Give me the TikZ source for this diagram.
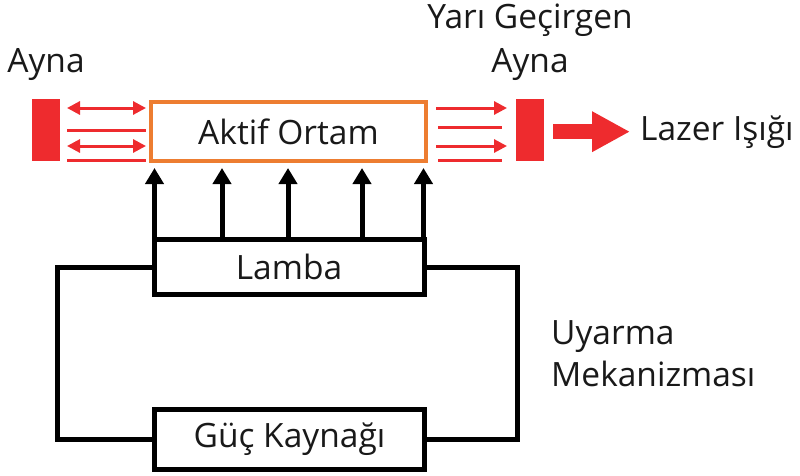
\documentclass[tikz,border=0pt]{standalone}
\usepackage{fontspec}
\setmainfont{Open Sans}
\usetikzlibrary{arrows.meta,calc}
\definecolor{laserred}{HTML}{EE2B2E}
\definecolor{mediumorange}{HTML}{ED7D31}
\tikzset{
  mirror/.style={fill=laserred, draw=none, minimum width=28pt, minimum height=62pt, inner sep=0pt, outer sep=0pt},
  medium/.style={draw=mediumorange, line width=4pt, minimum width=275pt, minimum height=59pt, inner sep=0pt, outer sep=0pt},
  unit/.style={draw=black, line width=5pt, minimum width=270pt, inner sep=0pt, outer sep=0pt},
  label/.style={font=\fontsize{33.5}{40}\selectfont, inner sep=0pt, text=black!90},
  ray/.style={draw=laserred, line width=3pt},
  raytip/.tip={Triangle[width=13pt,length=13pt]},
  pump/.style={line width=5pt, -{Triangle[width=18pt,length=16pt]}},
  wire/.style={line width=5pt}
}
\begin{document}
\begin{tikzpicture}[x=1pt,y=-1pt]
\useasboundingbox (0,0) rectangle (800,475);

% mirrors and gain medium
\node[mirror] (lm) at (46,130) {};
\node[mirror] (rm) at (530,130) {};
\node[medium, label] (am) at (288.5,131.5) {Aktif Ortam};

% pump lamp and power supply
\node[unit, minimum height=55pt, label] (lamba) at (289,267) {Lamba};
\node[unit, minimum height=60pt, label] (guc) at (289.5,439.5) {Güç Kaynağı};

% text labels
\node[label, anchor=base] (laynalbl) at (46,72) {Ayna};
\node[label, anchor=base] (yarilbl) at (530,28) {Yarı Geçirgen};
\node[label, anchor=base] (raynalbl) at (530,72) {Ayna};
\node[label, anchor=base west] (laser) at (640,140) {Lazer Işığı};
\node[label, anchor=base west] (uyarma) at (551,344) {Uyarma};
\node[label, anchor=base west] (mekanizma) at (551,386) {Mekanizması};

% light bouncing between the left mirror and the medium
\draw[ray, {raytip}-{raytip}]
  ($(lm.east)+(7,-22)$) -- ($(am.west |- lm.east)+(-5,-22)$);
\draw[ray] ($(lm.east)+(7,0)$) -- ($(am.west |- lm.east)+(-5,0)$);
\draw[ray, {raytip}-{raytip}]
  ($(lm.east)+(7,16)$) -- ($(am.west |- lm.east)+(-5,16)$);
\draw[ray] ($(lm.east)+(7,30)$) -- ($(am.west |- lm.east)+(-5,30)$);

% light between the medium and the output coupler
\draw[ray, -{raytip}]
  ($(am.east |- rm.west)+(10,-22)$) -- ($(rm.west)+(-9,-22)$);
\draw[ray] ($(am.east |- rm.west)+(12,-3)$) -- ($(rm.west)+(-14,-3)$);
\draw[ray, -{raytip}]
  ($(am.east |- rm.west)+(10,16)$) -- ($(rm.west)+(-9,16)$);
\draw[ray] ($(am.east |- rm.west)+(12,30)$) -- ($(rm.west)+(-14,30)$);

% output beam
\draw[draw=laserred, line width=15pt, -{Triangle[width=38pt,length=38pt]}, shorten <=9pt, shorten >=10pt]
  (rm.east |- laser.west) -- (laser.west);

% pumping arrows from the lamp into the medium
\foreach \px in {154.5,222,288,362,423.5}
  \draw[pump] (\px,239.5) -- (\px,168);

% circuit between lamp and power supply
\draw[wire] (lamba.west) -- ++(-96.5,0) |- (guc.west);
\draw[wire] (lamba.east) -- ++(93,0) |- (guc.east);
\end{tikzpicture}
\end{document}
